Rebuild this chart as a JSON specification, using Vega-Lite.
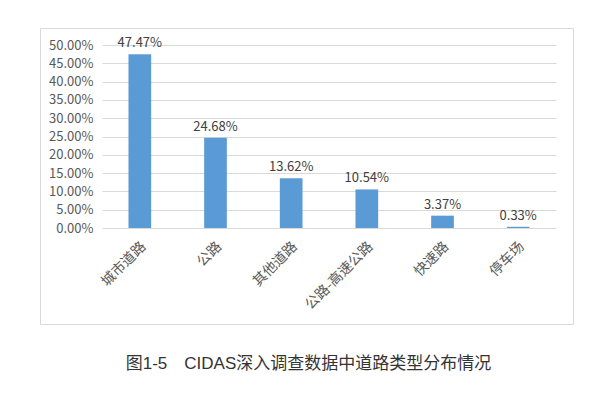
{
  "$schema": "https://vega.github.io/schema/vega-lite/v6.json",
  "width": 533,
  "height": 296,
  "autosize": {"type": "none"},
  "padding": {"left": 40, "top": 28, "right": 27, "bottom": 73},
  "background": "white",
  "title": {
    "text": "图1-5　CIDAS深入调查数据中道路类型分布情况",
    "orient": "bottom",
    "anchor": "middle",
    "frame": "group",
    "dx": 2,
    "offset": 32,
    "baseline": "top",
    "fontSize": 17,
    "font": "Liberation Sans, Noto Sans CJK SC",
    "fontWeight": "normal",
    "color": "#333333"
  },
  "data": {
    "values": [
      {"type": "城市道路", "pct": 0.4747},
      {"type": "公路", "pct": 0.2468},
      {"type": "其他道路", "pct": 0.1362},
      {"type": "公路-高速公路", "pct": 0.1054},
      {"type": "快速路", "pct": 0.0337},
      {"type": "停车场", "pct": 0.0033}
    ]
  },
  "encoding": {
    "x": {
      "field": "type",
      "type": "nominal",
      "sort": null,
      "scale": {"range": [62, 516], "paddingInner": 0.7, "paddingOuter": 0.35},
      "axis": {
        "title": null,
        "offset": -96,
        "domain": false,
        "ticks": false,
        "grid": false,
        "labelAngle": -45,
        "labelAlign": "right",
        "labelBaseline": "middle",
        "labelPadding": 16,
        "labelOffset": 4,
        "labelFont": "Noto Sans CJK SC",
        "labelFontSize": 14,
        "labelColor": "#595959"
      }
    },
    "y": {
      "field": "pct",
      "type": "quantitative",
      "scale": {"domain": [0, 0.5], "range": [200, 17], "nice": false, "zero": true},
      "axis": {
        "title": null,
        "offset": -62,
        "values": [0, 0.05, 0.1, 0.15, 0.2, 0.25, 0.3, 0.35, 0.4, 0.45, 0.5],
        "format": ".2%",
        "domain": false,
        "ticks": false,
        "grid": true,
        "gridColor": "#d9d9d9",
        "gridWidth": 1,
        "labelPadding": 9,
        "labelFont": "Noto Sans CJK SC",
        "labelFontSize": 13,
        "labelColor": "#595959"
      }
    }
  },
  "layer": [
    {"mark": {"type": "bar", "color": "#5b9bd5"}},
    {
      "mark": {"type": "text", "baseline": "bottom", "dy": -4, "font": "Noto Sans CJK SC", "fontSize": 13, "color": "#404040"},
      "encoding": {"text": {"field": "pct", "type": "quantitative", "format": ".2%"}}
    }
  ],
  "config": {"view": {"stroke": "#d9d9d9", "strokeWidth": 1}}
}
